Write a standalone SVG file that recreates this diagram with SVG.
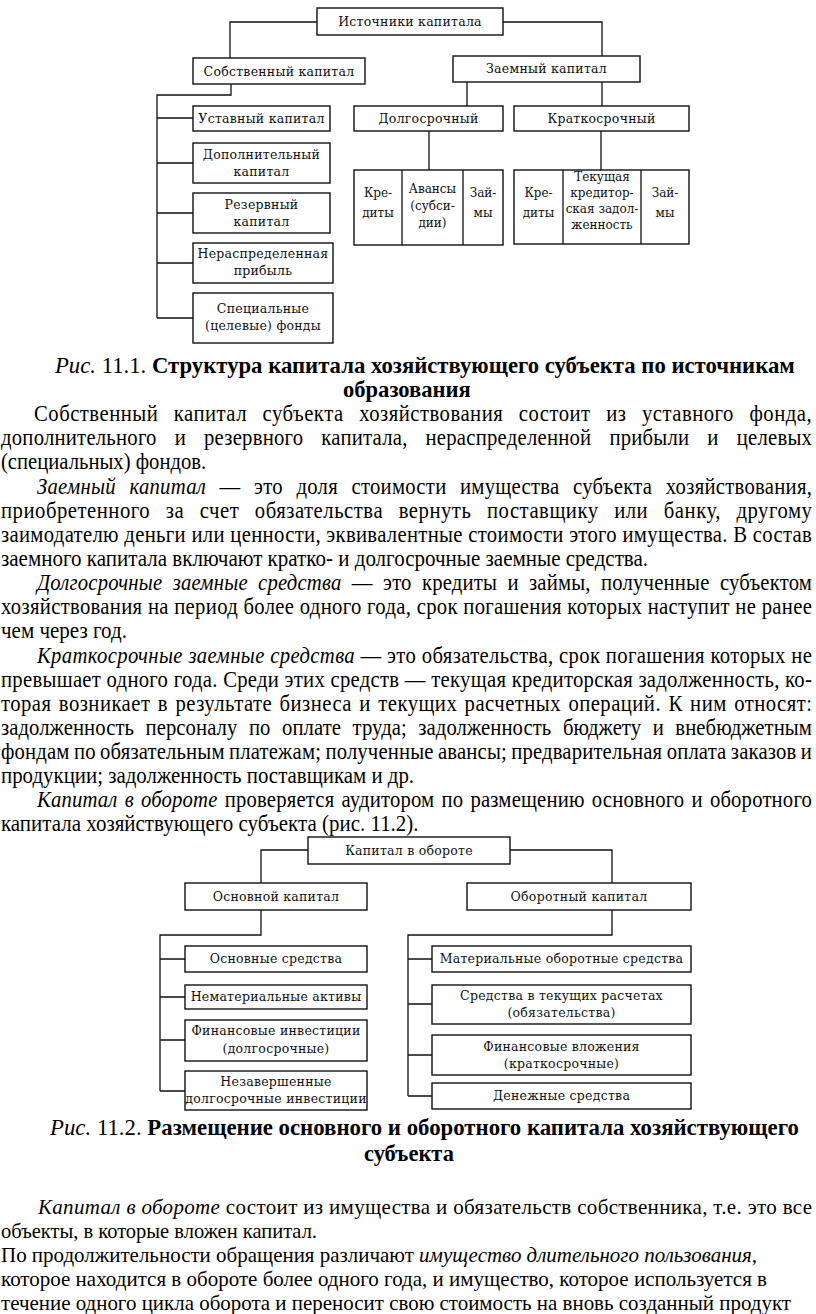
<svg xmlns="http://www.w3.org/2000/svg" width="816" height="1314" viewBox="0 0 816 1314">
<style>
.bg{fill:#fff}
.box{fill:#fff;stroke:#111;stroke-width:1.4}
.ln{fill:none;stroke:#111;stroke-width:1.3}
.d{font-family:"DejaVu Serif","Liberation Serif",serif;font-size:12.5px;letter-spacing:0.25px;fill:#111;text-anchor:middle}
.s{font-size:12px;letter-spacing:0}
.t{font-family:"Liberation Serif","Times New Roman",serif;font-size:23px;fill:#000}
.cap{font-family:"Liberation Serif","Times New Roman",serif;font-size:24px;fill:#000}
.p{font-family:"Liberation Serif","Times New Roman",serif;font-size:21px;fill:#000}
.i{font-style:italic}
.b{font-weight:bold}
</style>
<rect class="bg" x="0" y="0" width="816" height="1314"/>

<!-- Diagram 1 connectors -->
<g id="connectors1">
<path class="ln" d="M317,22 H230 V58"/>
<path class="ln" d="M503,22 H602 V56"/>
<path class="ln" d="M231,84 V95 H157 V318"/>
<path class="ln" d="M157,118 H193 M157,163 H193 M157,213 H193 M157,263 H193 M157,318 H193"/>
<path class="ln" d="M467,82 V106 M602,82 V106"/>
<path class="ln" d="M429,131 V170 M601,131 V170"/>
</g>

<g id="n-istochniki"><rect class="box" x="317" y="8" width="186" height="27"/><text class="d" x="410" y="26" letter-spacing="0.8">Источники капитала</text></g>
<g id="n-sobstv"><rect class="box" x="193" y="58" width="172" height="26"/><text class="d" x="279" y="76">Собственный капитал</text></g>
<g id="n-zaem"><rect class="box" x="453" y="56" width="187" height="26"/><text class="d" x="546.5" y="73">Заемный капитал</text></g>
<g id="n-ustav"><rect class="box" x="193" y="106" width="137" height="25"/><text class="d" x="261.5" y="123">Уставный капитал</text></g>
<g id="n-dopoln"><rect class="box" x="193" y="143" width="137" height="40"/><text class="d" x="261.5" y="159">Дополнительный</text><text class="d" x="261.5" y="176">капитал</text></g>
<g id="n-rezerv"><rect class="box" x="193" y="193" width="137" height="40"/><text class="d" x="261.5" y="209">Резервный</text><text class="d" x="261.5" y="226">капитал</text></g>
<g id="n-neraspr"><rect class="box" x="193" y="243" width="140" height="40"/><text class="d" x="263" y="258">Нераспределенная</text><text class="d" x="263" y="275">прибыль</text></g>
<g id="n-spec"><rect class="box" x="193" y="293" width="140" height="50"/><text class="d" x="263" y="313">Специальные</text><text class="d" x="263" y="330">(целевые) фонды</text></g>
<g id="n-dolgo"><rect class="box" x="354" y="106" width="149" height="25"/><text class="d" x="428.5" y="123">Долгосрочный</text></g>
<g id="n-kratko"><rect class="box" x="514" y="106" width="175" height="25"/><text class="d" x="601.5" y="123">Краткосрочный</text></g>
<g id="n-dolgo-group">
<rect class="box" x="354" y="170" width="149" height="75"/>
<path class="ln" d="M402,170 V245 M463,170 V245"/>
<text class="d s" x="378" y="197">Кре-</text><text class="d s" x="378" y="217">диты</text>
<text class="d s" x="432.5" y="193">Авансы</text><text class="d s" x="432.5" y="210">(субси-</text><text class="d s" x="432.5" y="227">дии)</text>
<text class="d s" x="483" y="197">Зай-</text><text class="d s" x="483" y="217">мы</text>
</g>
<g id="n-kratko-group">
<rect class="box" x="514" y="170" width="175" height="74"/>
<path class="ln" d="M563,170 V244 M641,170 V244"/>
<text class="d s" x="538.5" y="197">Кре-</text><text class="d s" x="538.5" y="217">диты</text>
<text class="d s" x="602" y="181">Текущая</text><text class="d s" x="602" y="197">кредитор-</text><text class="d s" x="602" y="213">ская задол-</text><text class="d s" x="602" y="229">женность</text>
<text class="d s" x="665" y="197">Зай-</text><text class="d s" x="665" y="217">мы</text>
</g>

<!-- Caption 1 and text (condensed Times) -->
<g id="text1" transform="scale(0.9,1)">
<text class="cap" x="61.1" y="373" textLength="822" lengthAdjust="spacingAndGlyphs"><tspan class="i">Рис.</tspan> 11.1. <tspan class="b">Структура капитала хозяйствующего субъекта по источникам</tspan></text>
<text class="cap b" x="381.1" y="397" textLength="142" lengthAdjust="spacingAndGlyphs">образования</text>
<text class="t" x="37.8" y="421" word-spacing="11" textLength="864" lengthAdjust="spacing">Собственный капитал субъекта хозяйствования состоит из уставного фонда,</text>
<text class="t" x="1.1" y="445" word-spacing="14" textLength="901" lengthAdjust="spacing">дополнительного и резервного капитала, нераспределенной прибыли и целевых</text>
<text class="t" x="1.1" y="469" textLength="228" lengthAdjust="spacingAndGlyphs">(специальных) фондов.</text>
<text class="t" x="41.1" y="494" word-spacing="9" textLength="861" lengthAdjust="spacing"><tspan class="i">Заемный капитал</tspan> — это доля стоимости имущества субъекта хозяйствования,</text>
<text class="t" x="1.1" y="518" word-spacing="11" textLength="901" lengthAdjust="spacing">приобретенного за счет обязательства вернуть поставщику или банку, другому</text>
<text class="t" x="1.1" y="542" textLength="901" lengthAdjust="spacing">заимодателю деньги или ценности, эквивалентные стоимости этого имущества. В состав</text>
<text class="t" x="1.1" y="566" textLength="719" lengthAdjust="spacingAndGlyphs">заемного капитала включают кратко- и долгосрочные заемные средства.</text>
<text class="t" x="41.1" y="590" word-spacing="5.5" textLength="861" lengthAdjust="spacing"><tspan class="i">Долгосрочные заемные средства</tspan> — это кредиты и займы, полученные субъектом</text>
<text class="t" x="1.1" y="614" textLength="901" lengthAdjust="spacing">хозяйствования на период более одного года, срок погашения которых наступит не ранее</text>
<text class="t" x="1.1" y="638" textLength="140" lengthAdjust="spacingAndGlyphs">чем через год.</text>
<text class="t" x="41.1" y="663" textLength="861" lengthAdjust="spacing"><tspan class="i">Краткосрочные заемные средства</tspan> — это обязательства, срок погашения которых не</text>
<text class="t" x="1.1" y="687" textLength="901" lengthAdjust="spacing">превышает одного года. Среди этих средств — текущая кредиторская задолженность, ко-</text>
<text class="t" x="1.1" y="711" word-spacing="2" textLength="901" lengthAdjust="spacing">торая возникает в результате бизнеса и текущих расчетных операций. К ним относят:</text>
<text class="t" x="1.1" y="735" word-spacing="7" textLength="901" lengthAdjust="spacing">задолженность персоналу по оплате труда; задолженность бюджету и внебюджетным</text>
<text class="t" x="1.1" y="759" word-spacing="-1" textLength="901" lengthAdjust="spacing">фондам по обязательным платежам; полученные авансы; предварительная оплата заказов и</text>
<text class="t" x="1.1" y="783" textLength="459" lengthAdjust="spacingAndGlyphs">продукции; задолженность поставщикам и др.</text>
<text class="t" x="41.1" y="807" word-spacing="2" textLength="861" lengthAdjust="spacing"><tspan class="i">Капитал в обороте</tspan> проверяется аудитором по размещению основного и оборотного</text>
<text class="t" x="1.1" y="831" textLength="464" lengthAdjust="spacingAndGlyphs">капитала хозяйствующего субъекта (рис. 11.2).</text>
</g>

<!-- Diagram 2 connectors -->
<g id="connectors2">
<path class="ln" d="M308,850 H261 V883"/>
<path class="ln" d="M510,850 H612 V883"/>
<path class="ln" d="M261,910 V935 H160 V1091"/>
<path class="ln" d="M160,959 H185 M160,997 H185 M160,1040 H185 M160,1091 H185"/>
<path class="ln" d="M612,910 V935 H408 V1096"/>
<path class="ln" d="M408,959 H432 M408,1004 H432 M408,1055 H432 M408,1096 H432"/>
</g>

<g id="n-kapital-oborot"><rect class="box" x="308" y="837" width="202" height="27"/><text class="d" x="409" y="855">Капитал в обороте</text></g>
<g id="n-osnovnoy"><rect class="box" x="185" y="883" width="182" height="27"/><text class="d" x="276" y="901">Основной капитал</text></g>
<g id="n-oborotny"><rect class="box" x="467" y="883" width="224" height="27"/><text class="d" x="579" y="901">Оборотный капитал</text></g>
<g id="n-osn-sredstva"><rect class="box" x="185" y="946" width="182" height="26"/><text class="d" x="276" y="963">Основные средства</text></g>
<g id="n-nemat"><rect class="box" x="185" y="985" width="182" height="24"/><text class="d" x="276" y="1001">Нематериальные активы</text></g>
<g id="n-fin-invest"><rect class="box" x="185" y="1020" width="182" height="41"/><text class="d" x="276" y="1035">Финансовые инвестиции</text><text class="d" x="276" y="1053">(долгосрочные)</text></g>
<g id="n-nezav"><rect class="box" x="185" y="1071" width="182" height="39"/><text class="d" x="276" y="1086">Незавершенные</text><text class="d" x="276" y="1103">долгосрочные инвестиции</text></g>
<g id="n-mat"><rect class="box" x="432" y="946" width="259" height="26"/><text class="d" x="561.5" y="963">Материальные оборотные средства</text></g>
<g id="n-sredstva-tek"><rect class="box" x="432" y="985" width="259" height="39"/><text class="d" x="561.5" y="1000">Средства в текущих расчетах</text><text class="d" x="561.5" y="1017">(обязательства)</text></g>
<g id="n-fin-vlozh"><rect class="box" x="432" y="1035" width="259" height="40"/><text class="d" x="561.5" y="1051">Финансовые вложения</text><text class="d" x="561.5" y="1068">(краткосрочные)</text></g>
<g id="n-denezh"><rect class="box" x="432" y="1083" width="259" height="26"/><text class="d" x="561.5" y="1100">Денежные средства</text></g>

<!-- Caption 2 -->
<g id="caption2" transform="scale(0.9,1)">
<text class="cap" x="55.6" y="1135" textLength="832" lengthAdjust="spacingAndGlyphs"><tspan class="i">Рис.</tspan> 11.2. <tspan class="b">Размещение основного и оборотного капитала хозяйствующего</tspan></text>
<text class="cap b" x="404.4" y="1161" textLength="100" lengthAdjust="spacingAndGlyphs">субъекта</text>
</g>

<!-- Final paragraph -->
<g id="text2">
<text class="p" x="38" y="1214" textLength="774" lengthAdjust="spacing"><tspan class="i">Капитал в обороте</tspan> состоит из имущества и обязательств собственника, т.е. это все</text>
<text class="p" x="1" y="1238" textLength="316" lengthAdjust="spacingAndGlyphs">объекты, в которые вложен капитал.</text>
<text class="p" x="1" y="1262" textLength="756" lengthAdjust="spacingAndGlyphs">По продолжительности обращения различают <tspan class="i">имущество длительного пользования,</tspan></text>
<text class="p" x="1" y="1286" textLength="766" lengthAdjust="spacingAndGlyphs">которое находится в обороте более одного года, и имущество, которое используется в</text>
<text class="p" x="1" y="1310" textLength="790" lengthAdjust="spacingAndGlyphs">течение одного цикла оборота и переносит свою стоимость на вновь созданный продукт</text>
</g>
</svg>
